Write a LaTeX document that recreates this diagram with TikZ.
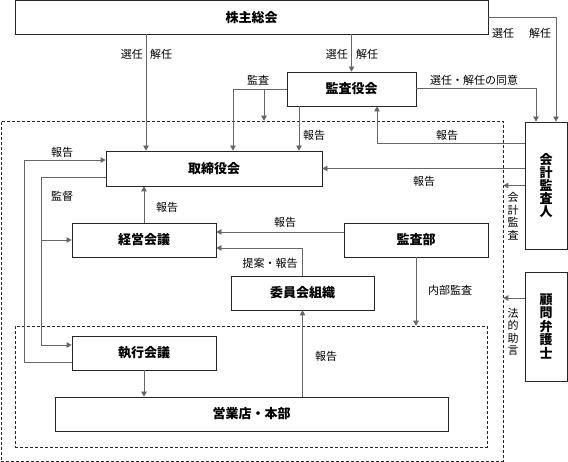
\documentclass[tikz,border=0pt]{standalone}
\usepackage{fontspec}
\setmainfont{Noto Sans CJK JP}
\usetikzlibrary{arrows.meta}

\begin{document}
\begin{tikzpicture}[x=1pt,y=-1pt,
    box/.style={draw=black!85,line width=0.8pt,inner sep=0pt,align=center,
        font=\bfseries\fontsize{13}{13}\selectfont},
    zone/.style={draw=black!85,dash pattern=on 3pt off 2pt,line width=0.6pt,inner sep=0pt},
    line/.style={draw=black!60,line width=0.8pt},
    arr/.style={line,-{Triangle[length=5pt,width=5.5pt]}},
    lbl/.style={font=\fontsize{11}{12.5}\selectfont,inner sep=0pt,align=center}]

    \useasboundingbox (0,0) rectangle (568,462);

    %ZONES (dashed)
    \node[zone,minimum width=502pt,minimum height=340pt] (outer) at (252,291) {};
    \node[zone,minimum width=472pt,minimum height=121pt] (inner) at (251,386.5) {};

    %BOXES
    \node[box,minimum width=473pt,minimum height=33.5pt] (gm) at (251.5,17.25) {株主総会};
    \node[box,minimum width=129pt,minimum height=34pt] (kansayaku) at (351.5,89) {監査役会};
    \node[box,minimum width=216pt,minimum height=35pt] (board) at (214,168.5) {取締役会};
    \node[box,minimum width=144pt,minimum height=34pt] (keiei) at (144,240) {経営会議};
    \node[box,minimum width=144pt,minimum height=34pt] (kansabu) at (416,240) {監査部};
    \node[box,minimum width=143pt,minimum height=34pt] (iinkai) at (302.5,293) {委員会組織};
    \node[box,minimum width=144pt,minimum height=34pt] (shikkou) at (144,353) {執行会議};
    \node[box,minimum width=393pt,minimum height=34pt] (eigyo) at (251.5,414) {営業店・本部};
    \node[box,minimum width=42pt,minimum height=127pt] (auditor) at (546,185.5) {会\\計\\監\\査\\人};
    \node[box,minimum width=42pt,minimum height=109pt,
        font=\bfseries\fontsize{13}{11.5}\selectfont] (lawyer) at (546,326.5) {顧\\問\\弁\\護\\士};

    %SHAREHOLDERS: election / dismissal
    \draw[arr] ([xshift=-68pt]board.north |- gm.south) -- ([xshift=-68pt]board.north);
    \node[lbl,left] at (143,54) {選任};	\node[lbl,right] at (150,54) {解任};
    \draw[arr] (gm.south -| kansayaku.north) -- (kansayaku.north);
    \node[lbl,left] at (348,54) {選任};	\node[lbl,right] at (356,54) {解任};
    \draw[arr] (gm.east) -| ([xshift=10pt]auditor.north);
    \node[lbl] at (503,33) {選任};	\node[lbl] at (540,33) {解任};
    \draw[arr] ([yshift=1pt]kansayaku.east) -| ([xshift=-10pt]auditor.north);
    \node[lbl] at (474,80) {選任・解任の同意};

    %AUDIT BOARD
    \coordinate (audit) at (264,89);
    \draw[arr] (kansayaku.west) -| ([xshift=19pt]board.north);
    \draw[arr] (audit) -- (audit |- outer.north);
    \node[lbl] at (258,80) {監査};
    \draw[arr] ([xshift=-52.5pt]kansayaku.south) -- ([xshift=-52.5pt]kansayaku.south |- board.north);
    \node[lbl] at (314,135) {報告};

    %ACCOUNTING AUDITOR
    \draw[arr] ([yshift=42.5pt]auditor.west) -| ([xshift=25.5pt]kansayaku.south);
    \node[lbl] at (447,135) {報告};
    \draw[arr] (auditor.west |- board.east) -- (board.east);
    \node[lbl] at (424,181) {報告};
    \draw[arr] (auditor.west) -- (auditor.west -| outer.east);
    \node[lbl] at (513,216) {会\\計\\監\\査};

    %LAWYER
    \draw[arr] ([yshift=28.5pt]lawyer.west) -- ([yshift=28.5pt]lawyer.west -| outer.east);
    \node[lbl] at (513,332) {法\\的\\助\\言};

    %INSIDE THE COMPANY
    \draw[arr] (keiei.north) -- (board.south -| keiei.north);
    \node[lbl] at (167,207) {報告};
    \draw[arr] ([yshift=8pt]kansabu.west) -- ([yshift=8pt]kansabu.west -| keiei.east);
    \node[lbl] at (285,222) {報告};
    \draw[arr] (iinkai.north) |- ([yshift=-8pt]keiei.east);
    \node[lbl] at (270,263) {提案・報告};
    \draw[arr] (kansabu.south) -- (kansabu.south |- inner.north);
    \node[lbl] at (450,290) {内部監査};
    \draw[arr] (eigyo.north -| iinkai.south) -- (iinkai.south);
    \node[lbl] at (326,356) {報告};
    \draw[arr] (shikkou.south) -- (eigyo.north -| shikkou.south);

    %LEFT SIDE: report / supervision
    \draw[arr] ([yshift=-9pt]shikkou.west) -- ++(-47,0) |- ([yshift=8.5pt]board.west);
    \node[lbl] at (62,152) {報告};
    \coordinate (spine) at (42,240);
    \draw[arr] ([yshift=-8.5pt]board.west) -- ++(-64,0) |- ([yshift=8pt]shikkou.west);
    \draw[arr] (spine) -- (keiei.west);
    \node[lbl] at (62,196) {監督};
\end{tikzpicture}
\end{document}
